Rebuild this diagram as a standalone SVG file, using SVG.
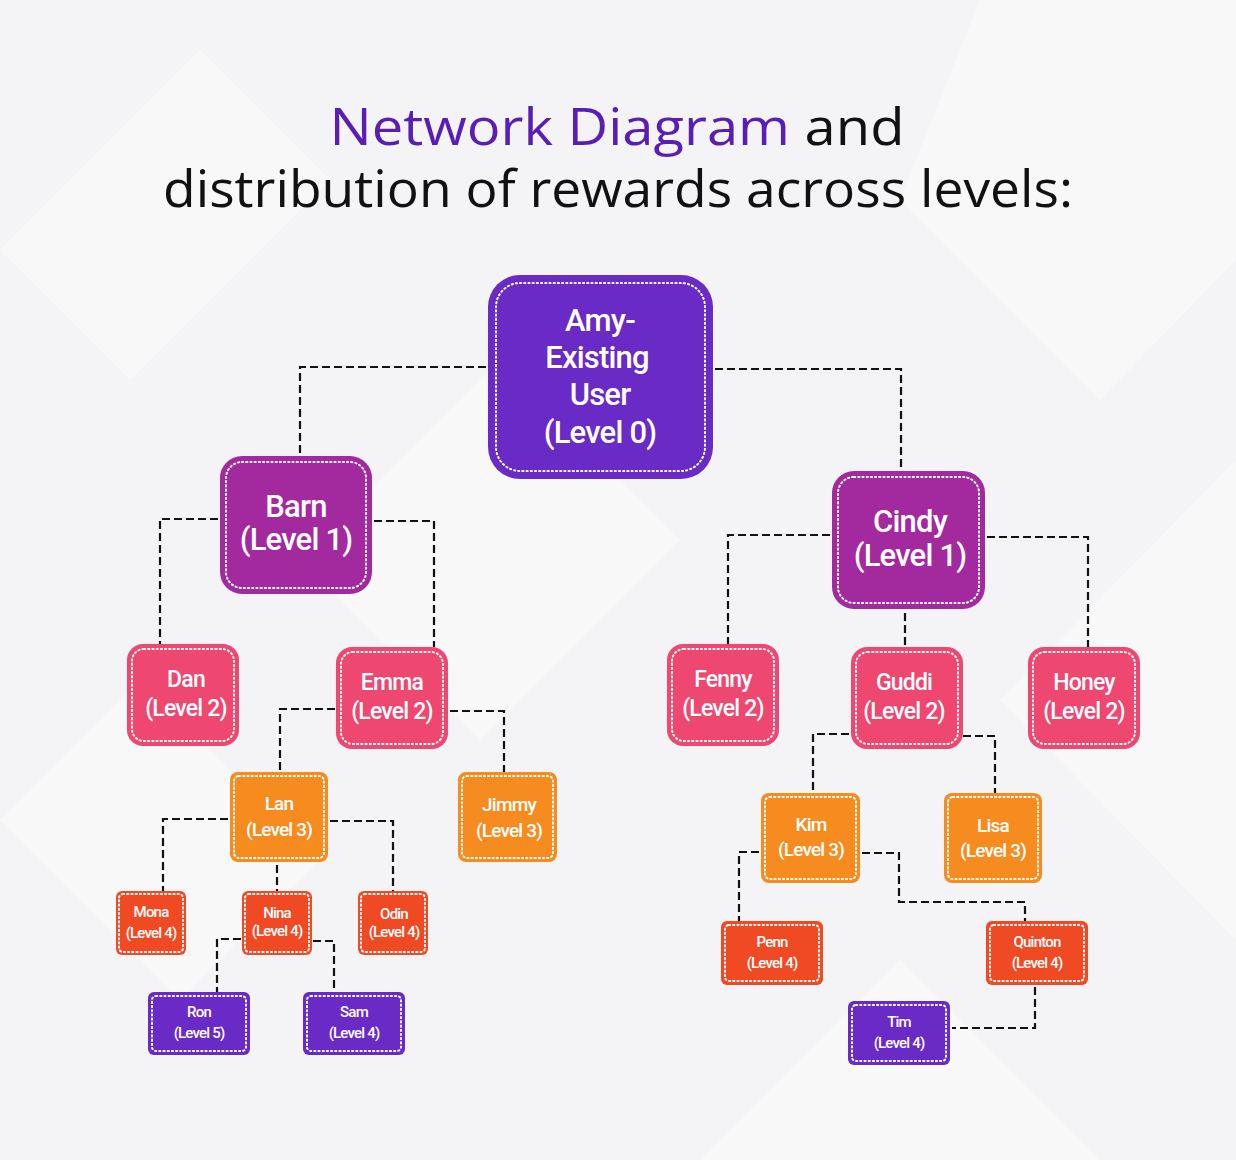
<svg xmlns="http://www.w3.org/2000/svg" width="1236" height="1160" viewBox="0 0 1236 1160">
<style>
.bg{fill:#f4f4f6}
.shape{fill:#ffffff;opacity:0.35}
.inner{fill:none;stroke:#ffffff;stroke-width:2;stroke-dasharray:1.2 3;stroke-linecap:round}
.t{fill:#ffffff;font-family:Roboto,"Liberation Sans",sans-serif;font-weight:500;text-anchor:middle;letter-spacing:-0.8px}
.l0{fill:#6a2ac5}
.l1{fill:#a3299f}
.l2{fill:#ee4770}
.l3{fill:#f68b1f}
.l4{fill:#f04a24}
.lp{fill:#6a2ac5}
.conn path{fill:none;stroke:#111111;stroke-width:2.2;stroke-dasharray:8 4}
.title{font-family:"Open Sans","Noto Sans",sans-serif;font-size:52px;fill:#111111}
</style>
<rect class="bg" x="0" y="0" width="1236" height="1160"/>
<g id="background-shapes">
<polygon class="shape" points="0,250 200,50 330,180 130,380"/>
<polygon class="shape" points="980,0 1236,0 1236,260 1100,400 900,200"/>
<polygon class="shape" points="300,560 500,360 680,540 480,740"/>
<polygon class="shape" points="1000,700 1236,460 1236,940"/>
<polygon class="shape" points="0,820 140,680 320,860 180,1000"/>
<polygon class="shape" points="700,1160 900,960 1100,1160"/>
</g>
<g id="title">
<text class="title" x="617" y="145" text-anchor="middle" textLength="575" lengthAdjust="spacingAndGlyphs"><tspan fill="#5a1eb4">Network Diagram</tspan> and</text>
<text class="title" x="618" y="207" text-anchor="middle" textLength="910" lengthAdjust="spacingAndGlyphs">distribution of rewards across levels:</text>
</g>
<g id="connectors" class="conn">
<path d="M486,367 H300 V456"/>
<path d="M715,369 H901 V471"/>
<path d="M218,519 H160 V644"/>
<path d="M374,521 H434 V647"/>
<path d="M335,709 H280 V772"/>
<path d="M450,711 H504 V772"/>
<path d="M830,535 H728 V644"/>
<path d="M905,613 V647"/>
<path d="M987,537 H1088 V647"/>
<path d="M849,734 H813 V793"/>
<path d="M963,736 H995 V793"/>
<path d="M228,819 H163 V891"/>
<path d="M277,865 V891"/>
<path d="M330,821 H393 V891"/>
<path d="M241,939 H217 V992"/>
<path d="M313,941 H334 V992"/>
<path d="M759,852 H739 V921"/>
<path d="M862,853 H899 V902 H1025 V921"/>
<path d="M1035,987 V1028 H952"/>
</g>
<g id="amy">
<rect class="l0" x="488" y="275" width="225" height="204" rx="32"/>
<rect class="inner" x="496" y="283" width="209" height="188" rx="24"/>
<text class="t" font-size="31"><tspan x="600" y="331">Amy-</tspan><tspan x="597" y="368">Existing</tspan><tspan x="600" y="405">User</tspan><tspan x="600" y="443">(Level 0)</tspan></text>
</g>
<g id="barn">
<rect class="l1" x="220" y="456" width="152" height="138" rx="22"/>
<rect class="inner" x="226" y="462" width="140" height="126" rx="16"/>
<text class="t" font-size="31"><tspan x="296" y="517">Barn</tspan><tspan x="296" y="550">(Level 1)</tspan></text>
</g>
<g id="cindy">
<rect class="l1" x="832" y="471" width="153" height="138" rx="22"/>
<rect class="inner" x="838" y="477" width="141" height="126" rx="16"/>
<text class="t" font-size="31"><tspan x="910" y="532">Cindy</tspan><tspan x="910" y="566">(Level 1)</tspan></text>
</g>
<g id="dan">
<rect class="l2" x="127" y="644" width="112" height="102" rx="16"/>
<rect class="inner" x="132" y="649" width="102" height="92" rx="12"/>
<text class="t" font-size="23"><tspan x="186" y="687">Dan</tspan><tspan x="186" y="716">(Level 2)</tspan></text>
</g>
<g id="emma">
<rect class="l2" x="336" y="647" width="112" height="102" rx="16"/>
<rect class="inner" x="341" y="652" width="102" height="92" rx="12"/>
<text class="t" font-size="23"><tspan x="392" y="690">Emma</tspan><tspan x="392" y="719">(Level 2)</tspan></text>
</g>
<g id="fenny">
<rect class="l2" x="667" y="644" width="112" height="102" rx="16"/>
<rect class="inner" x="672" y="649" width="102" height="92" rx="12"/>
<text class="t" font-size="23"><tspan x="723" y="687">Fenny</tspan><tspan x="723" y="716">(Level 2)</tspan></text>
</g>
<g id="guddi">
<rect class="l2" x="851" y="647" width="112" height="102" rx="16"/>
<rect class="inner" x="856" y="652" width="102" height="92" rx="12"/>
<text class="t" font-size="23"><tspan x="904" y="690">Guddi</tspan><tspan x="904" y="719">(Level 2)</tspan></text>
</g>
<g id="honey">
<rect class="l2" x="1028" y="647" width="112" height="102" rx="16"/>
<rect class="inner" x="1033" y="652" width="102" height="92" rx="12"/>
<text class="t" font-size="23"><tspan x="1084" y="690">Honey</tspan><tspan x="1084" y="719">(Level 2)</tspan></text>
</g>
<g id="lan">
<rect class="l3" x="230" y="772" width="98" height="90" rx="8"/>
<rect class="inner" x="234" y="776" width="90" height="82" rx="5"/>
<text class="t" font-size="19"><tspan x="279" y="810">Lan</tspan><tspan x="279" y="836">(Level 3)</tspan></text>
</g>
<g id="jimmy">
<rect class="l3" x="458" y="772" width="99" height="90" rx="8"/>
<rect class="inner" x="462" y="776" width="91" height="82" rx="5"/>
<text class="t" font-size="19"><tspan x="509" y="811">Jimmy</tspan><tspan x="509" y="837">(Level 3)</tspan></text>
</g>
<g id="kim">
<rect class="l3" x="761" y="793" width="99" height="90" rx="8"/>
<rect class="inner" x="765" y="797" width="91" height="82" rx="5"/>
<text class="t" font-size="19"><tspan x="811" y="831">Kim</tspan><tspan x="811" y="856">(Level 3)</tspan></text>
</g>
<g id="lisa">
<rect class="l3" x="944" y="793" width="98" height="90" rx="8"/>
<rect class="inner" x="948" y="797" width="90" height="82" rx="5"/>
<text class="t" font-size="19"><tspan x="993" y="832">Lisa</tspan><tspan x="993" y="857">(Level 3)</tspan></text>
</g>
<g id="mona">
<rect class="l4" x="116" y="891" width="70" height="64" rx="6"/>
<rect class="inner" x="119" y="894" width="64" height="58" rx="4"/>
<text class="t" font-size="15"><tspan x="151" y="917">Mona</tspan><tspan x="151" y="938">(Level 4)</tspan></text>
</g>
<g id="nina">
<rect class="l4" x="242" y="891" width="70" height="64" rx="6"/>
<rect class="inner" x="245" y="894" width="64" height="58" rx="4"/>
<text class="t" font-size="15"><tspan x="277" y="918">Nina</tspan><tspan x="277" y="936">(Level 4)</tspan></text>
</g>
<g id="odin">
<rect class="l4" x="358" y="891" width="70" height="64" rx="6"/>
<rect class="inner" x="361" y="894" width="64" height="58" rx="4"/>
<text class="t" font-size="15"><tspan x="394" y="919">Odin</tspan><tspan x="394" y="937">(Level 4)</tspan></text>
</g>
<g id="ron">
<rect class="lp" x="148" y="992" width="102" height="63" rx="6"/>
<rect class="inner" x="152" y="996" width="94" height="55" rx="4"/>
<text class="t" font-size="15"><tspan x="199" y="1017">Ron</tspan><tspan x="199" y="1038">(Level 5)</tspan></text>
</g>
<g id="sam">
<rect class="lp" x="303" y="992" width="102" height="63" rx="6"/>
<rect class="inner" x="307" y="996" width="94" height="55" rx="4"/>
<text class="t" font-size="15"><tspan x="354" y="1017">Sam</tspan><tspan x="354" y="1038">(Level 4)</tspan></text>
</g>
<g id="penn">
<rect class="l4" x="721" y="921" width="102" height="64" rx="6"/>
<rect class="inner" x="725" y="925" width="94" height="56" rx="4"/>
<text class="t" font-size="15"><tspan x="772" y="947">Penn</tspan><tspan x="772" y="968">(Level 4)</tspan></text>
</g>
<g id="quinton">
<rect class="l4" x="986" y="921" width="102" height="64" rx="6"/>
<rect class="inner" x="990" y="925" width="94" height="56" rx="4"/>
<text class="t" font-size="15"><tspan x="1037" y="947">Quinton</tspan><tspan x="1037" y="968">(Level 4)</tspan></text>
</g>
<g id="tim">
<rect class="lp" x="848" y="1001" width="102" height="64" rx="6"/>
<rect class="inner" x="852" y="1005" width="94" height="56" rx="4"/>
<text class="t" font-size="15"><tspan x="899" y="1027">Tim</tspan><tspan x="899" y="1048">(Level 4)</tspan></text>
</g>
</svg>
